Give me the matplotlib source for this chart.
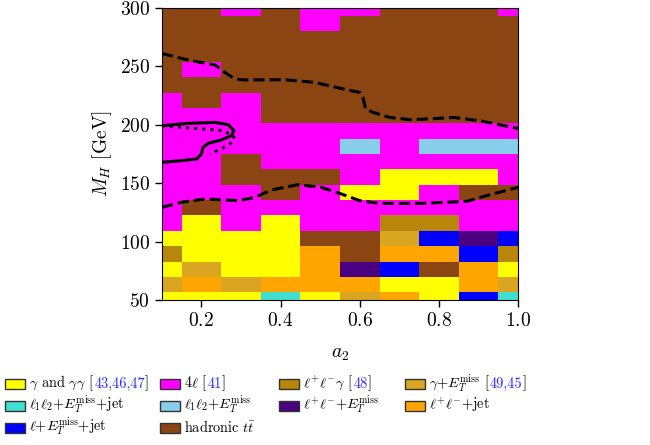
import numpy as np
import matplotlib
matplotlib.use("Agg")
import matplotlib.pyplot as plt
from matplotlib.colors import ListedColormap
from matplotlib.patches import Rectangle

plt.rcParams["font.family"] = "serif"
plt.rcParams["font.serif"] = ["cmr10", "DejaVu Serif"]
plt.rcParams["mathtext.fontset"] = "cm"
plt.rcParams["axes.formatter.use_mathtext"] = True

FIG_W, FIG_H = 650, 445

# grid centres
A2_VALUES = [0.1, 0.2, 0.3, 0.4, 0.5, 0.6, 0.7, 0.8, 0.9, 1.0]
MH_VALUES = np.linspace(50, 300, 20)

# most sensitive analysis per cell, rows from M_H = 300 (top) down to 50
CELL_CODES = [
    "HHMHMMHHHM",
    "HHHHMHHHHH",
    "HHHHHHHHHH",
    "HHHHHHHHHH",
    "HMHHHHHHHH",
    "HHHHHHHHHH",
    "MHMHHHHHHH",
    "MMMHHHHHHH",
    "MMMMMMMMMM",
    "MMMMMLMLLL",
    "MMHMMMMMMM",
    "MMHHHMYYYM",
    "MMMHMYYMHH",
    "MHMMMMMMMM",
    "MYMYMMDDMM",
    "YYYYHHGBIB",
    "DYYYOHOOBD",
    "YGYYOIBHOY",
    "GOGOOOYYOG",
    "YYYTYGOYBT",
]

# legend order (column-major, 4 columns of 3,3,2,2)
CODES = ["Y", "T", "B", "M", "L", "H", "D", "I", "G", "O"]
COLORS = ["#ffff00", "#40e0d0", "#0000ff", "#ff00ff", "#87ceeb",
          "#8b4513", "#b8860b", "#4b0082", "#daa520", "#ffa500"]
LABELS = [
    r"$\gamma$ and $\gamma\gamma$ [",
    r"$\ell_1\ell_2$+$E_T^{\rm miss}$+jet",
    r"$\ell$+$E_T^{\rm miss}$+jet",
    r"4$\ell$ [",
    r"$\ell_1\ell_2$+$E_T^{\rm miss}$",
    r"hadronic $t\bar{t}$",
    r"$\ell^{+}\ell^{-}\gamma$ [",
    r"$\ell^{+}\ell^{-}$+$E_T^{\rm miss}$",
    r"$\gamma$+$E_T^{\rm miss}$ [",
    r"$\ell^{+}\ell^{-}$+jet",
]
CITES = {0: "43,46,47", 3: "41", 6: "48", 8: "49,45"}
CITE_BLUE = "#2b2bff"
LEGEND_COLS = [[0, 1, 2], [3, 4, 5], [6, 7], [8, 9]]

# exclusion contours
UPPER_X = [0.1, 0.166, 0.234, 0.259, 0.284, 0.309, 0.41, 0.486, 0.549, 0.6,
           0.608, 0.615, 0.634, 0.676, 0.726, 0.777, 0.836, 0.903, 0.954, 1.0]
UPPER_Y = [261.1, 255.5, 251.2, 244.9, 239.2, 238.4, 238.6, 236.3, 231.4, 227.7,
           223.5, 213.5, 210.6, 206.3, 204.4, 205.0, 206.3, 203.5, 200.0, 196.9]
LOWER_X = [0.1, 0.15, 0.209, 0.293, 0.335, 0.377, 0.444, 0.503, 0.554, 0.6,
           0.65, 0.752, 0.87, 0.92, 1.0]
LOWER_Y = [129.3, 133.6, 136.5, 135.0, 137.8, 144.2, 148.7, 146.4, 140.7, 135.0,
           132.7, 132.7, 134.4, 139.3, 146.4]
SOLID_X = [0.1, 0.166, 0.234, 0.268, 0.282, 0.276, 0.25, 0.217, 0.204, 0.2,
           0.188, 0.15, 0.1]
SOLID_Y = [199.2, 201.2, 202.0, 200.1, 195.0, 190.7, 187.0, 184.1, 180.7, 175.0,
           170.7, 169.3, 167.8]
DOTTED_X = [0.1, 0.183, 0.255, 0.28, 0.284, 0.272, 0.25, 0.221]
DOTTED_Y = [199.2, 196.9, 195.0, 190.7, 187.8, 183.6, 179.3, 175.0]

LEGEND_FS = 10.3


def build_grid():
    idx = {c: i for i, c in enumerate(CODES)}
    rows = [[idx[c] for c in row] for row in CELL_CODES[::-1]]
    return np.array(rows)


def fx(px):
    return px / FIG_W


def fy(py):
    return 1 - py / FIG_H


def draw_legend(fig):
    # hand-made legend so the rows line up across columns like the LaTeX original
    renderer = fig.canvas.get_renderer()
    col_x = [5, 160, 279, 405]
    row_y = [384, 406, 428]
    box_w, box_h = 20, 10
    for c, entries in enumerate(LEGEND_COLS):
        for r, i in enumerate(entries):
            x0, yc = col_x[c], row_y[r]
            fig.add_artist(Rectangle((fx(x0), fy(yc + box_h / 2)), box_w / FIG_W, box_h / FIG_H,
                                     transform=fig.transFigure, facecolor=COLORS[i],
                                     edgecolor="#333333", linewidth=1.0))
            t = fig.text(fx(x0 + box_w + 4), fy(yc + 3.5), LABELS[i], fontsize=LEGEND_FS,
                         ha="left", va="baseline")
            if i in CITES:
                bb = t.get_window_extent(renderer)
                t1 = fig.text(fx(bb.x1), fy(yc + 3.5), CITES[i], color=CITE_BLUE,
                              fontsize=LEGEND_FS, ha="left", va="baseline")
                bb1 = t1.get_window_extent(renderer)
                fig.text(fx(bb1.x1), fy(yc + 3.5), "]", fontsize=LEGEND_FS,
                         ha="left", va="baseline")


def main():
    fig = plt.figure(figsize=(6.5, 4.45), dpi=100)
    ax = fig.add_axes([0.249, 0.326, 0.548, 0.656])

    grid = build_grid()
    cmap = ListedColormap(COLORS)
    ax.pcolormesh(A2_VALUES, MH_VALUES, grid, cmap=cmap, vmin=-0.5,
                  vmax=len(COLORS) - 0.5, shading="nearest")

    ax.plot(UPPER_X, UPPER_Y, color="k", lw=2.2, ls="--")
    ax.plot(LOWER_X, LOWER_Y, color="k", lw=2.2, ls="--")
    ax.plot(SOLID_X, SOLID_Y, color="k", lw=2.2, ls="-")
    ax.plot(DOTTED_X, DOTTED_Y, color="k", lw=2.2, ls=":")

    ax.set_xlim(0.1, 1.0)
    ax.set_ylim(50, 300)
    ax.set_xticks([0.2, 0.4, 0.6, 0.8, 1.0])
    ax.set_yticks([50, 100, 150, 200, 250, 300])
    ax.tick_params(labelsize=14, length=5, width=1.0)
    ax.set_xlabel(r"$a_2$", fontsize=14, labelpad=11)
    ax.set_ylabel(r"$M_H$ [GeV]", fontsize=14)

    draw_legend(fig)

    fig.savefig("out.png", dpi=100)
    plt.close(fig)


if __name__ == "__main__":
    main()
